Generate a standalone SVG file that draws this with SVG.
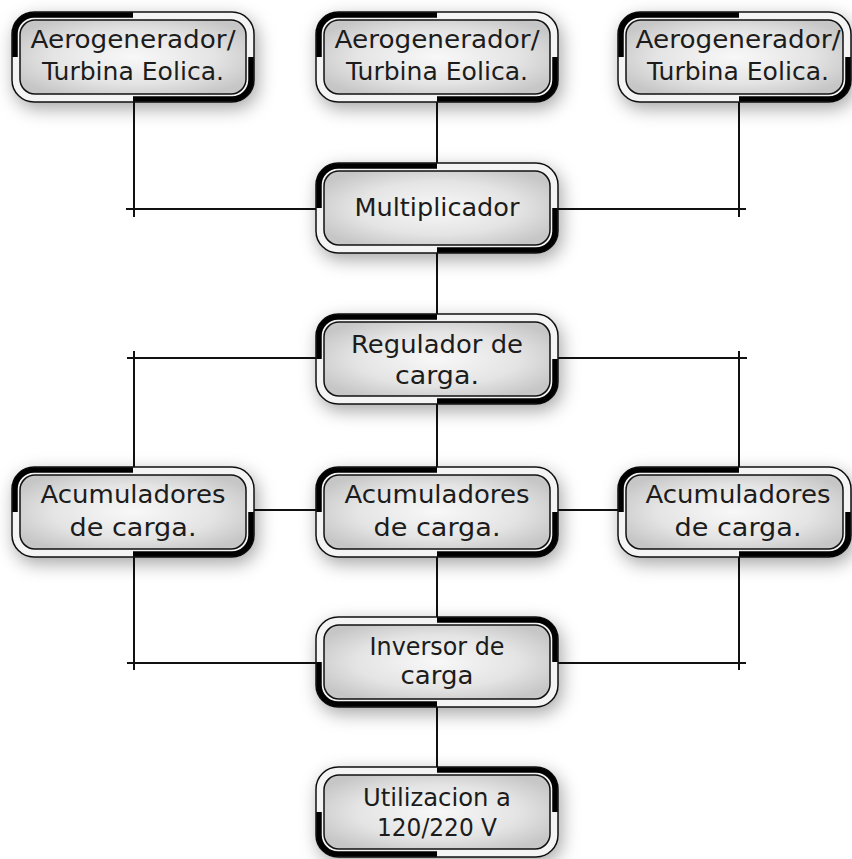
<svg xmlns="http://www.w3.org/2000/svg" xmlns:xlink="http://www.w3.org/1999/xlink" width="852" height="859" viewBox="0 0 852 859">
<style>
.outer{fill:#f4f4f4;stroke:#111;stroke-width:1.5}
.inner{fill:url(#g);stroke:#111;stroke-width:1.5}
.thick{fill:none;stroke:#000;stroke-width:5.5}
.lbl{font-family:"DejaVu Sans",sans-serif;font-size:25px;fill:#1c1c1c;text-anchor:middle}
.con line{stroke:#111;stroke-width:2}
</style>
<defs>
<radialGradient id="g" cx="0.5" cy="0.5" r="0.6">
<stop offset="0" stop-color="#f8f8f8"/>
<stop offset="0.6" stop-color="#e4e4e4"/>
<stop offset="1" stop-color="#c6c6c6"/>
</radialGradient>
<filter id="sh" x="-20%" y="-30%" width="140%" height="170%">
<feDropShadow dx="3" dy="6" stdDeviation="9" flood-color="#000" flood-opacity="0.35"/>
</filter>
<g id="boxA">
<rect class="outer" x="0" y="0" width="242" height="90" rx="22" filter="url(#sh)"/>
<rect class="inner" x="8" y="8" width="226" height="74" rx="15"/>
<path class="thick" d="M3,45 V22 A19,19 0 0 1 22,3 H121"/>
<path class="thick" d="M239,45 V68 A19,19 0 0 1 220,87 H121"/>
</g>
<g id="boxR">
<rect class="outer" x="0" y="0" width="233" height="90" rx="22" filter="url(#sh)"/>
<rect class="inner" x="8" y="8" width="217" height="74" rx="15"/>
<path class="thick" d="M3,45 V22 A19,19 0 0 1 22,3 H121"/>
<path class="thick" d="M230,45 V68 A19,19 0 0 1 211,87 H121"/>
</g>
<g id="boxB">
<rect class="outer" x="0" y="0" width="242" height="90" rx="22" filter="url(#sh)"/>
<rect class="inner" x="8" y="8" width="226" height="74" rx="15"/>
<path class="thick" d="M121,3 H220 A19,19 0 0 1 239,22 V45"/>
<path class="thick" d="M121,87 H22 A19,19 0 0 1 3,68 V45"/>
</g>
</defs>
<rect width="852" height="859" fill="#fff"/>
<g class="con" id="connectors">
<line x1="134" y1="100" x2="134" y2="217"/>
<line x1="437" y1="100" x2="437" y2="164"/>
<line x1="739" y1="100" x2="739" y2="217"/>
<line x1="126" y1="209" x2="317" y2="209"/>
<line x1="558" y1="209" x2="746" y2="209"/>
<line x1="437" y1="252" x2="437" y2="315"/>
<line x1="127" y1="358" x2="317" y2="358"/>
<line x1="558" y1="358" x2="747" y2="358"/>
<line x1="134" y1="351" x2="134" y2="468"/>
<line x1="739" y1="351" x2="739" y2="468"/>
<line x1="437" y1="403" x2="437" y2="468"/>
<line x1="254" y1="510" x2="317" y2="510"/>
<line x1="558" y1="510" x2="618" y2="510"/>
<line x1="134" y1="556" x2="134" y2="670"/>
<line x1="739" y1="556" x2="739" y2="670"/>
<line x1="437" y1="556" x2="437" y2="618"/>
<line x1="127" y1="663" x2="317" y2="663"/>
<line x1="558" y1="663" x2="746" y2="663"/>
<line x1="437" y1="706" x2="437" y2="768"/>
</g>
<g id="aero1" transform="translate(12,12)">
<use href="#boxA"/>
<text class="lbl" x="121" y="36" textLength="205" lengthAdjust="spacingAndGlyphs">Aerogenerador/</text>
<text class="lbl" x="121" y="68" textLength="182" lengthAdjust="spacingAndGlyphs">Turbina Eolica.</text>
</g>
<g id="aero2" transform="translate(316,12)">
<use href="#boxA"/>
<text class="lbl" x="121" y="36" textLength="205" lengthAdjust="spacingAndGlyphs">Aerogenerador/</text>
<text class="lbl" x="121" y="68" textLength="182" lengthAdjust="spacingAndGlyphs">Turbina Eolica.</text>
</g>
<g id="aero3" transform="translate(618,12)">
<use href="#boxR"/>
<text class="lbl" x="120" y="36" textLength="205" lengthAdjust="spacingAndGlyphs">Aerogenerador/</text>
<text class="lbl" x="120" y="68" textLength="182" lengthAdjust="spacingAndGlyphs">Turbina Eolica.</text>
</g>
<g id="multiplicador" transform="translate(316,163)">
<use href="#boxA"/>
<text class="lbl" x="121" y="53" textLength="165" lengthAdjust="spacingAndGlyphs">Multiplicador</text>
</g>
<g id="regulador" transform="translate(316,314)">
<use href="#boxA"/>
<text class="lbl" x="121" y="39" textLength="172" lengthAdjust="spacingAndGlyphs">Regulador de</text>
<text class="lbl" x="121" y="70" textLength="84" lengthAdjust="spacingAndGlyphs">carga.</text>
</g>
<g id="acum1" transform="translate(12,467)">
<use href="#boxA"/>
<text class="lbl" x="121" y="36" textLength="185" lengthAdjust="spacingAndGlyphs">Acumuladores</text>
<text class="lbl" x="121" y="69" textLength="127" lengthAdjust="spacingAndGlyphs">de carga.</text>
</g>
<g id="acum2" transform="translate(316,467)">
<use href="#boxA"/>
<text class="lbl" x="121" y="36" textLength="185" lengthAdjust="spacingAndGlyphs">Acumuladores</text>
<text class="lbl" x="121" y="69" textLength="127" lengthAdjust="spacingAndGlyphs">de carga.</text>
</g>
<g id="acum3" transform="translate(618,467)">
<use href="#boxR"/>
<text class="lbl" x="120" y="36" textLength="185" lengthAdjust="spacingAndGlyphs">Acumuladores</text>
<text class="lbl" x="120" y="69" textLength="127" lengthAdjust="spacingAndGlyphs">de carga.</text>
</g>
<g id="inversor" transform="translate(316,617)">
<use href="#boxB"/>
<text class="lbl" x="121" y="38" textLength="135" lengthAdjust="spacingAndGlyphs">Inversor de</text>
<text class="lbl" x="121" y="67" textLength="73" lengthAdjust="spacingAndGlyphs">carga</text>
</g>
<g id="utilizacion" transform="translate(316,767)">
<use href="#boxB"/>
<text class="lbl" x="121" y="39" textLength="148" lengthAdjust="spacingAndGlyphs">Utilizacion a</text>
<text class="lbl" x="121" y="69" textLength="120" lengthAdjust="spacingAndGlyphs">120/220 V</text>
</g>
</svg>
